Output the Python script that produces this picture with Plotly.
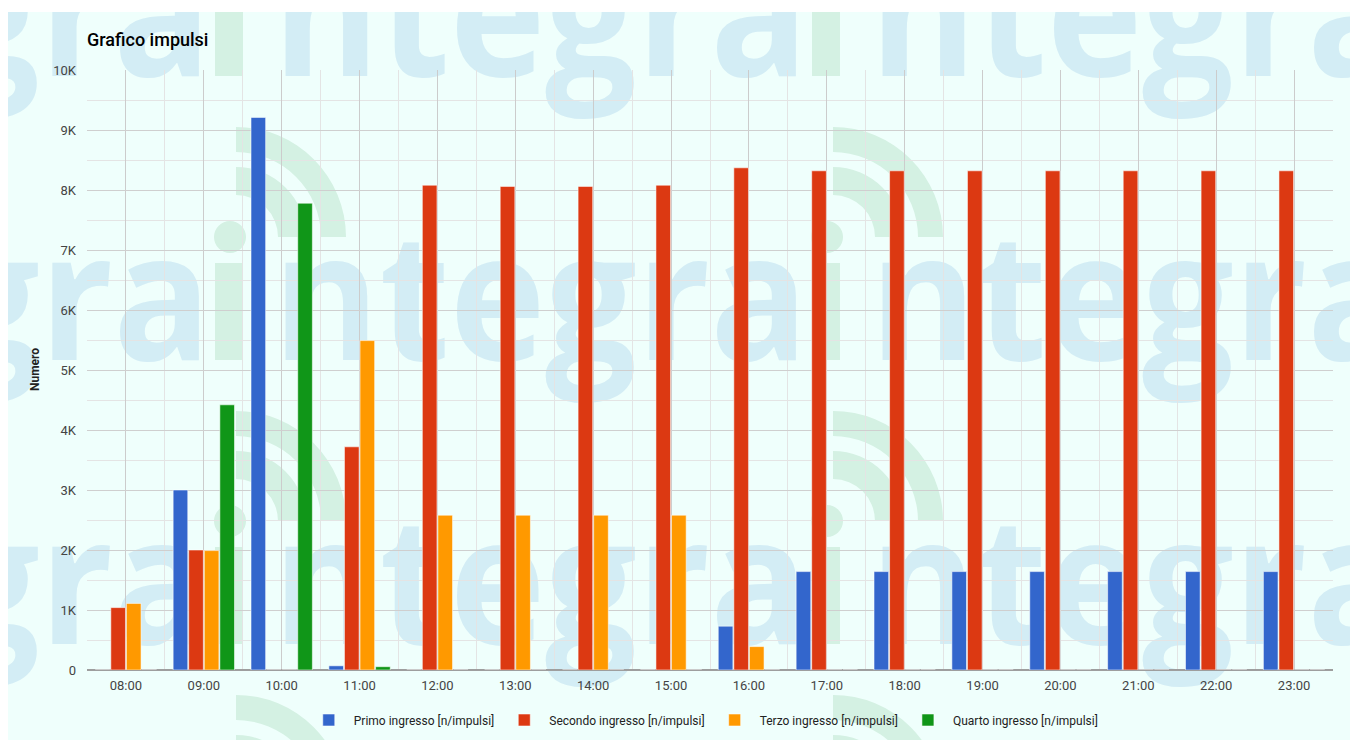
import base64
import plotly.graph_objects as go

# ---------------- data ----------------
categories = ["08:00", "09:00", "10:00", "11:00", "12:00", "13:00", "14:00", "15:00",
              "16:00", "17:00", "18:00", "19:00", "20:00", "21:00", "22:00", "23:00"]
primo = [0, 3000, 9210, 70, 0, 0, 0, 0, 730, 1640, 1640, 1640, 1640, 1640, 1640, 1640]
secondo = [1040, 2000, 0, 3720, 8080, 8060, 8060, 8080, 8370, 8320, 8320, 8320, 8320, 8320, 8320, 8320]
terzo = [1110, 1990, 0, 5490, 2580, 2580, 2580, 2580, 390, 0, 0, 0, 0, 0, 0, 0]
quarto = [0, 4420, 7780, 55, 0, 0, 0, 0, 0, 0, 0, 0, 0, 0, 0, 0]
series_names = ["Primo ingresso [n/impulsi]", "Secondo ingresso [n/impulsi]",
                "Terzo ingresso [n/impulsi]", "Quarto ingresso [n/impulsi]"]
series_colors = ["#3366cc", "#dc3912", "#ff9900", "#109618"]
y_tickvals = [0, 1000, 2000, 3000, 4000, 5000, 6000, 7000, 8000, 9000, 10000]
y_ticktext = ["0", "1K", "2K", "3K", "4K", "5K", "6K", "7K", "8K", "9K", "10K"]

# ---------------- figure geometry ----------------
W, H = 1359, 740
ML, MR, MT, MB = 87, 26, 70, 70
PW, PH = W - ML - MR, H - MT - MB

# ---------------- watermark background (decorative) ----------------
BG = "#effffc"
WM_BLUE = "#d3edf5"
WM_GREEN = "#d4f1e3"
img_x0, img_y0, img_x1, img_y1 = 8, 12, 1350, 740
iw, ih = img_x1 - img_x0, img_y1 - img_y0


def ring(cx, cy, ri, ro):
    return (f"M{cx},{cy-ro} A{ro},{ro} 0 0 1 {cx+ro},{cy} L{cx+ri},{cy} "
            f"A{ri},{ri} 0 0 0 {cx},{cy-ri} Z")


parts = [f'<rect x="0" y="0" width="{iw}" height="{ih}" fill="{BG}"/>']
for base_page in (76, 360, 644, 928):
    b = base_page - img_y0
    for ix_page in (215 - 597, 215, 215 + 597, 215 + 2 * 597):
        ix = ix_page - img_x0
        parts.append(f'<rect x="{ix}" y="{b-97}" width="28" height="97" fill="{WM_GREEN}"/>')
        parts.append(f'<circle cx="{ix+15}" cy="{b-123}" r="16" fill="{WM_GREEN}"/>')
        cx, cy = ix + 21, b - 123
        parts.append(f'<path d="{ring(cx, cy, 42, 70)}" fill="{WM_GREEN}"/>')
        parts.append(f'<path d="{ring(cx, cy, 85, 110)}" fill="{WM_GREEN}"/>')
        parts.append(
            f'<text x="{ix+58}" y="{b}" font-family="Open Sans, DejaVu Sans, sans-serif" '
            f'font-weight="700" font-size="178" fill="{WM_BLUE}" textLength="535" '
            f'lengthAdjust="spacingAndGlyphs">ntegra</text>')
svg = (f'<svg xmlns="http://www.w3.org/2000/svg" width="{iw}" height="{ih}" '
       f'viewBox="0 0 {iw} {ih}">' + "".join(parts) + "</svg>")
svg_uri = "data:image/svg+xml;base64," + base64.b64encode(svg.encode("utf-8")).decode("ascii")

# ---------------- traces ----------------
xpos = list(range(len(categories)))
fig = go.Figure()
for name, vals, col in zip(series_names, [primo, secondo, terzo, quarto], series_colors):
    fig.add_trace(go.Bar(
        x=xpos, y=vals, name=name,
        marker=dict(color=col, line=dict(color="rgba(255,255,255,0.55)", width=1)),
        hovertemplate="%{customdata}: %{y}<extra>" + name + "</extra>",
        customdata=categories,
    ))

fig.update_layout(
    width=W, height=H,
    margin=dict(l=ML, r=MR, t=MT, b=MB, autoexpand=False),
    paper_bgcolor="white",
    plot_bgcolor="rgba(0,0,0,0)",
    font=dict(family="Roboto, Arial, sans-serif", size=13, color="#444444"),
    barmode="group",
    bargap=0.2,
    bargroupgap=0.06,
    title=dict(text="Grafico impulsi",
               font=dict(family="Roboto, Arial, sans-serif", size=18, color="#000000",
                         weight=500),
               xref="paper", x=0, xanchor="left", yref="container",
               y=(H - 40) / H, yanchor="middle"),
    legend=dict(orientation="h", x=0.495, xanchor="center", y=-50 / PH, yanchor="middle",
                font=dict(family="Roboto, Arial, sans-serif", size=12, color="#222222"),
                bgcolor="rgba(0,0,0,0)", itemwidth=40, traceorder="normal"),
    xaxis=dict(
        tickmode="array", tickvals=xpos, ticktext=categories,
        range=[-0.5, len(categories) - 0.5],
        showgrid=True, gridcolor="#cccccc", gridwidth=1,
        minor=dict(tickmode="linear", tick0=-0.5, dtick=1, showgrid=True,
                   gridcolor="#e4e4e4", gridwidth=1, ticks=""),
        ticks="", ticklabelstandoff=6, zeroline=False, showline=False,
        tickfont=dict(size=13, color="#444444"),
    ),
    yaxis=dict(
        range=[0, 10000], tickmode="array", tickvals=y_tickvals, ticktext=y_ticktext,
        showgrid=True, gridcolor="#cfcfcf", gridwidth=1,
        minor=dict(tickmode="linear", tick0=0, dtick=500, showgrid=True,
                   gridcolor="#e4e4e4", gridwidth=1, ticks=""),
        ticks="", ticklabelstandoff=10,
        zeroline=True, zerolinecolor="#9e9e9e", zerolinewidth=2,
        tickfont=dict(size=13, color="#444444"),
    ),
    images=[dict(source=svg_uri, xref="paper", yref="paper",
                 x=(img_x0 - ML) / PW, y=(H - MB - img_y0) / PH,
                 sizex=iw / PW, sizey=ih / PH, xanchor="left", yanchor="top",
                 sizing="stretch", layer="below")],
    annotations=[dict(text="<b>Numero</b>", textangle=-90, xref="paper", yref="paper",
                      x=(35 - ML) / PW, y=0.5, xanchor="center", yanchor="middle",
                      showarrow=False, font=dict(family="Roboto, Arial, sans-serif",
                                                 size=12, color="#222222"))],
)

fig.write_html("out.html")
